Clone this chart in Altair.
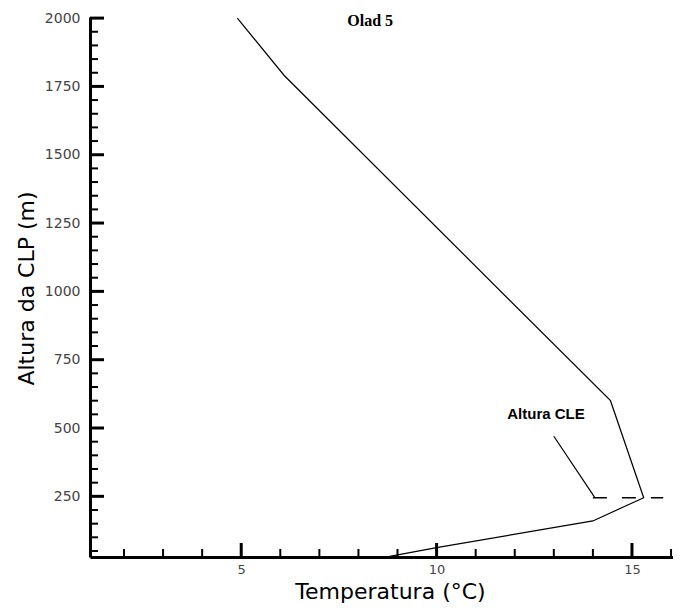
import altair as alt
import pandas as pd

# ---- data ----
TEMP = [4.9, 6.1, 14.45, 15.3, 14.0, 10.0, 8.8]
ALT = [2000, 1790, 600, 245, 160, 62, 30]

X_MAJOR = [5, 10, 15]
X_MINOR = [2, 3, 4, 6, 7, 8, 9, 11, 12, 13, 14, 16]
Y_MAJOR = [250, 500, 750, 1000, 1250, 1500, 1750, 2000]
Y_MINOR = [v for v in range(50, 2000, 50) if v % 250 != 0]

CLE_HEIGHT = [245, 245]
CLE_TEMP = [14.0, 15.8]
LEADER_TEMP = [13.0, 14.05]
LEADER_ALT = [470, 245]
CLE_LABEL = ["Altura CLE"]
CLE_LABEL_TEMP = [12.8]
CLE_LABEL_ALT = [550]
PANEL_TITLE = ["Olad 5"]
PANEL_TITLE_TEMP = [8.3]
PANEL_TITLE_ALT = [1990]

X_DOMAIN = [1.13, 16.05]
Y_DOMAIN = [28, 2004]

xs = alt.Scale(domain=X_DOMAIN, zero=False, nice=False)
ys = alt.Scale(domain=Y_DOMAIN, zero=False, nice=False)

profile = pd.DataFrame({"t": TEMP, "h": ALT, "o": range(len(TEMP))})

x_axis = alt.Axis(values=X_MAJOR, format="d", ticks=False, tickSize=0, grid=False,
                  domainWidth=3, domainColor="black",
                  labelFont="DejaVu Sans", labelFontSize=13, labelColor="#444",
                  labelPadding=6,
                  title="Temperatura (°C)", titleFont="DejaVu Sans",
                  titleFontSize=22, titleFontWeight="normal", titleColor="black",
                  titleX=300, titleY=41, titleAlign="center",
                  titleBaseline="alphabetic")
y_axis = alt.Axis(values=Y_MAJOR, format="d", ticks=False, tickSize=0, grid=False,
                  domainWidth=3, domainColor="black",
                  labelFont="DejaVu Sans", labelFontSize=14, labelColor="#444",
                  labelPadding=10,
                  title="Altura da CLP (m)", titleFont="DejaVu Sans",
                  titleFontSize=22, titleFontWeight="normal", titleColor="black",
                  titleAngle=-90, titleX=-57, titleY=271, titleAlign="center",
                  titleBaseline="alphabetic")


def X(field):
    return alt.X(field, scale=xs, axis=x_axis)


def Y(field):
    return alt.Y(field, scale=ys, axis=y_axis)


line = alt.Chart(profile).mark_line(color="black", strokeWidth=1.2).encode(
    x=X("t:Q"), y=Y("h:Q"), order="o:O",
)

x_left = alt.XDatum(X_DOMAIN[0], scale=xs, axis=x_axis)
y_bottom = alt.YDatum(Y_DOMAIN[0], scale=ys, axis=y_axis)

# inward ticks
y_major = alt.Chart(pd.DataFrame({"h": Y_MAJOR})).mark_tick(
    orient="horizontal", size=14, thickness=3, xOffset=7, color="black", opacity=1
).encode(x=x_left, y=Y("h:Q"))
y_minor = alt.Chart(pd.DataFrame({"h": Y_MINOR})).mark_tick(
    orient="horizontal", size=8, thickness=2, xOffset=4, color="black", opacity=1
).encode(x=x_left, y=Y("h:Q"))
x_major = alt.Chart(pd.DataFrame({"t": X_MAJOR})).mark_tick(
    orient="vertical", size=14, thickness=3, yOffset=-7, color="black", opacity=1
).encode(x=X("t:Q"), y=y_bottom)
x_minor = alt.Chart(pd.DataFrame({"t": X_MINOR})).mark_tick(
    orient="vertical", size=8, thickness=2, yOffset=-4, color="black", opacity=1
).encode(x=X("t:Q"), y=y_bottom)

cle = alt.Chart(pd.DataFrame({"t": CLE_TEMP, "h": CLE_HEIGHT})).mark_line(
    color="black", strokeWidth=1.4, strokeDash=[14, 15]
).encode(x=X("t:Q"), y=Y("h:Q"))

leader = alt.Chart(pd.DataFrame({"t": LEADER_TEMP, "h": LEADER_ALT})).mark_line(
    color="black", strokeWidth=1.2
).encode(x=X("t:Q"), y=Y("h:Q"))

cle_text = alt.Chart(pd.DataFrame({"t": CLE_LABEL_TEMP, "h": CLE_LABEL_ALT,
                                   "s": CLE_LABEL})).mark_text(
    font="Liberation Sans", fontSize=15, fontWeight="bold", color="black",
    align="center", baseline="middle"
).encode(x=X("t:Q"), y=Y("h:Q"), text="s:N")

title_text = alt.Chart(pd.DataFrame({"t": PANEL_TITLE_TEMP, "h": PANEL_TITLE_ALT,
                                     "s": PANEL_TITLE})).mark_text(
    font="Liberation Serif", fontSize=16, fontWeight="bold", color="black",
    align="center", baseline="middle"
).encode(x=X("t:Q"), y=Y("h:Q"), text="s:N")

chart = alt.layer(
    line, y_major, y_minor, x_major, x_minor, cle, leader, cle_text, title_text
).properties(
    width=583, height=540,
    autosize=alt.AutoSizeParams(type="none"),
    padding={"left": 82, "top": 9, "right": 0, "bottom": 47},
    background="white",
).configure_view(stroke=None)

chart.save("out.html", embed_options={"renderer": "svg", "actions": False})
